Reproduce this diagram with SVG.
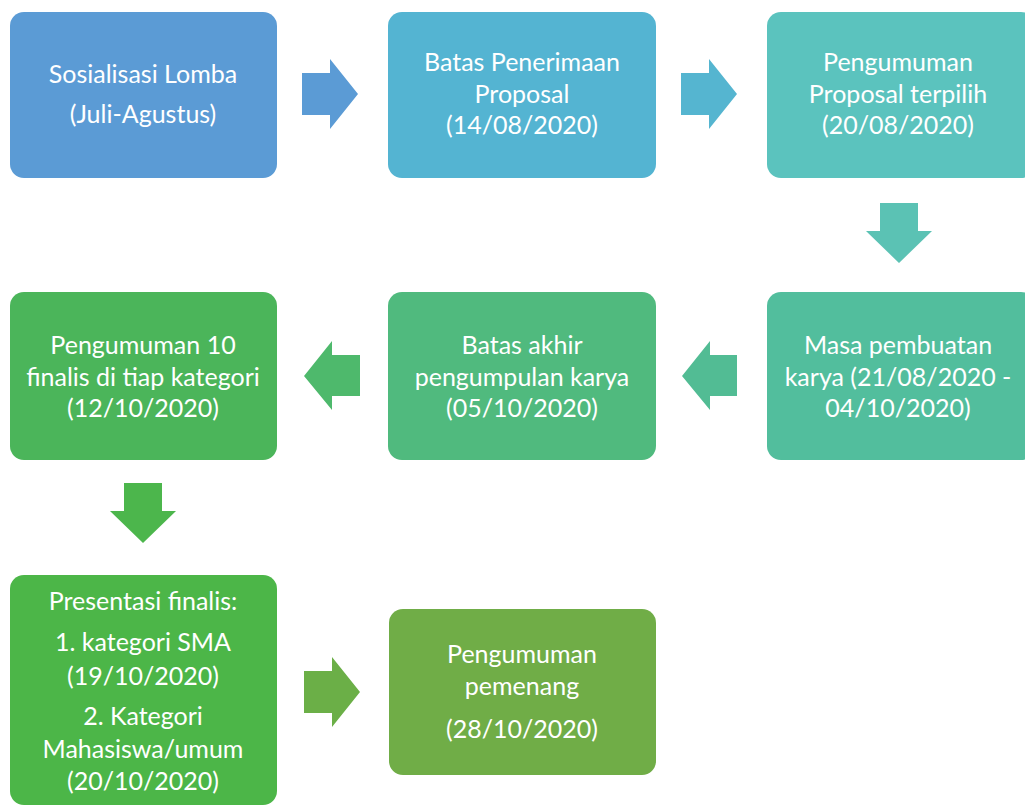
<svg xmlns="http://www.w3.org/2000/svg" width="1025" height="806" viewBox="0 0 1025 806">
<style>
.t{font-family:Lato,"Open Sans","DejaVu Sans",sans-serif;font-size:25px;fill:#ffffff;text-anchor:middle}
</style>
<rect width="1025" height="806" fill="#ffffff"/>
<g id="connectors">
<path id="a1" d="M302 73H330V59L358 94L330 129V115H302Z" fill="#5B9BD5"/>
<path id="a2" d="M681 73H709V59L737 94L709 129V115H681Z" fill="#55B5D0"/>
<path id="a3" d="M880 203H918V231H932L899 263L866 231H880Z" fill="#5BC2B4"/>
<path id="a4" d="M737 355H710V341L682 376L710 410V396H737Z" fill="#52BC94"/>
<path id="a5" d="M360 355H332V341L304 376L332 410V396H360Z" fill="#4EB96C"/>
<path id="a6" d="M124 483H162V511H176L143 543L110 511H124Z" fill="#4CB64C"/>
<path id="a7" d="M304 671H332V657L360 692L332 727V713H304Z" fill="#6BAF47"/>
</g>
<g id="n1"><rect x="10" y="12" width="267" height="166" rx="14" fill="#5B9BD5"/>
<text class="t" x="143" y="83">Sosialisasi Lomba</text><text class="t" x="143" y="123">(Juli-Agustus)</text></g>
<g id="n2"><rect x="388" y="12" width="268" height="166" rx="14" fill="#54B4D2"/>
<text class="t" x="522" y="71">Batas Penerimaan</text><text class="t" x="522" y="103">Proposal</text><text class="t" x="522" y="134">(14/08/2020)</text></g>
<g id="n3"><rect x="767" y="12" width="268" height="166" rx="14" fill="#5BC3BE"/>
<text class="t" x="898" y="71">Pengumuman</text><text class="t" x="898" y="103">Proposal terpilih</text><text class="t" x="898" y="134">(20/08/2020)</text></g>
<g id="n6"><rect x="767" y="292" width="268" height="168" rx="14" fill="#52BE9D"/>
<text class="t" x="898" y="354">Masa pembuatan</text><text class="t" x="898" y="386">karya (21/08/2020 -</text><text class="t" x="898" y="417">04/10/2020)</text></g>
<g id="n5"><rect x="388" y="292" width="268" height="168" rx="14" fill="#50BA7E"/>
<text class="t" x="522" y="354">Batas akhir</text><text class="t" x="522" y="386">pengumpulan karya</text><text class="t" x="522" y="417">(05/10/2020)</text></g>
<g id="n4"><rect x="10" y="292" width="267" height="168" rx="14" fill="#4BB55A"/>
<text class="t" x="143" y="354">Pengumuman 10</text><text class="t" x="143" y="386">finalis di tiap kategori</text><text class="t" x="143" y="417">(12/10/2020)</text></g>
<g id="n7"><rect x="10" y="575" width="267" height="230" rx="14" fill="#4CB648"/>
<text class="t" x="143" y="610">Presentasi finalis:</text><text class="t" x="143" y="651">1. kategori SMA</text><text class="t" x="143" y="685">(19/10/2020)</text><text class="t" x="143" y="725">2. Kategori</text><text class="t" x="143" y="758">Mahasiswa/umum</text><text class="t" x="143" y="790">(20/10/2020)</text></g>
<g id="n8"><rect x="389" y="609" width="267" height="166" rx="14" fill="#70AD47"/>
<text class="t" x="522" y="663">Pengumuman</text><text class="t" x="522" y="695">pemenang</text><text class="t" x="522" y="738">(28/10/2020)</text></g>
</svg>
